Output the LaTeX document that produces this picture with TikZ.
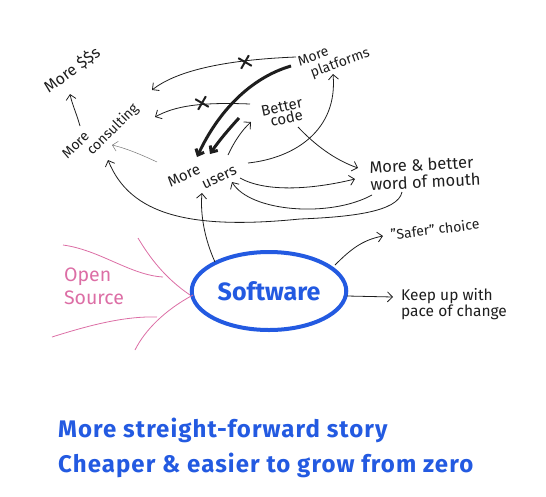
\documentclass[tikz,border=0pt]{standalone}
\usepackage{fontspec}
\setmainfont{Fira Sans}
\usetikzlibrary{arrows.meta,shapes.misc,shapes.geometric}
\definecolor{ink}{RGB}{30,30,30}
\definecolor{faint}{RGB}{120,120,120}
\definecolor{pen}{RGB}{35,90,225}
\definecolor{pinkpen}{RGB}{220,110,165}
\begin{document}
\begin{tikzpicture}[x=1pt,y=-1pt,
  lab/.style={font=\fontsize{14}{15}\selectfont, align=left, inner sep=1pt, text=ink},
  arr/.style={draw=ink, line width=0.8pt, -{Straight Barb[length=5pt,width=10pt]}},
  faintarr/.style={draw=faint, line width=0.5pt, -{Straight Barb[length=5pt,width=10pt]}},
  heavy/.style={draw=ink, line width=3pt, -{Straight Barb[length=5pt,width=9pt]}},
  xmark/.style={draw=ink, cross out, line width=2pt, minimum size=9pt, inner sep=0pt},
  pinkline/.style={draw=pinkpen, line width=0.8pt},
  bluetext/.style={font=\fontsize{24}{26}\selectfont\bfseries\addfontfeatures{LetterSpace=4.5},
                   text=pen, inner sep=0pt, anchor=west}
]
\useasboundingbox (0,0) rectangle (546,496);

% ---------- nodes ----------
\node[lab, rotate=36, font=\fontsize{16}{17}\selectfont] (dollars) at (72,70) {More \$\$s};
\node[lab, rotate=45] (consult) at (101,132) {More\\\hspace*{20pt}consulting};
\node[lab, rotate=20] (platforms) at (334,58) {More\\\hspace*{8pt}platforms};
\node[lab, rotate=12, font=\fontsize{15}{12}\selectfont] (code) at (283,113) {Better\\\hspace*{7pt}code};
\node[lab, rotate=25, font=\fontsize{15}{16}\selectfont] (users) at (202,176) {More\\\hspace*{30pt}users};
\node[lab, rotate=3, font=\fontsize{16.5}{17}\selectfont] (wom) at (425,173) {More \& better\\word of mouth};
\node[lab, rotate=7] (safer) at (435,229) {"Safer" choice};
\node[lab, font=\fontsize{15.5}{16}\selectfont] (keep) at (454,304) {Keep up with\\pace of change};
\node[lab, text=pinkpen, font=\fontsize{19.5}{23}\selectfont] (open) at (94,286) {Open\\Source};
\node[draw=pen, line width=4pt, ellipse, minimum width=150pt, minimum height=78pt,
      text=pen, font=\fontsize{25}{26}\selectfont\bfseries] (soft) at (269,291) {Software};
\node[bluetext] (story) at (58,430) {More streight-forward story};
\node[bluetext] (cheap) at (58,465) {Cheaper \& easier to grow from zero};

% ---------- connector end points ----------
\coordinate (consTop) at (80,126);
\coordinate (dolBot) at (70,94);
\coordinate (platL) at (296,57);
\coordinate (consR1) at (152,90);
\coordinate (codeL) at (250,104);
\coordinate (consR2) at (155,117);
\coordinate (platL2) at (291,66);
\coordinate (usersT1) at (197,157);
\coordinate (codeL2) at (239,118);
\coordinate (usersT2) at (210,154);
\coordinate (usersTR) at (228,155);
\coordinate (codeBL) at (251,122);
\coordinate (usersR) at (248,163);
\coordinate (platB) at (333,74);
\coordinate (codeB) at (298,127);
\coordinate (womL1) at (358,168);
\coordinate (usersR2) at (240,178);
\coordinate (womL2) at (355,179);
\coordinate (womB1) at (372,195);
\coordinate (usersB) at (232,182);
\coordinate (womB2) at (402,192);
\coordinate (mid) at (300,219);
\coordinate (consB) at (108,160);
\coordinate (usersL) at (157,162);
\coordinate (consB2) at (112,145);
\coordinate (softT) at (215,262);
\coordinate (usersB2) at (202,193);
\coordinate (softR1) at (335,265);
\coordinate (saferL) at (383,236);
\coordinate (softR2) at (347,296);
\coordinate (keepL) at (393,297);

% ---------- black connectors ----------
\draw[arr] (consTop) .. controls (76,112) and (72,104) .. (dolBot);
\draw[arr] (platL) .. controls (220,60) and (175,72) .. (consR1);
\node[xmark, rotate=15] (x1) at (245,62) {};
\draw[arr] (codeL) .. controls (200,102) and (175,106) .. (consR2);
\node[xmark, rotate=15] (x2) at (202,103) {};
\draw[heavy] (platL2) .. controls (250,78) and (218,112) .. (usersT1);
\draw[heavy] (codeL2) .. controls (228,130) and (218,142) .. (usersT2);
\draw[arr] (usersTR) .. controls (234,142) and (242,130) .. (codeBL);
\draw[arr] (usersR) .. controls (295,158) and (338,130) .. (platB);
\draw[arr] (codeB) .. controls (315,145) and (335,160) .. (womL1);
\draw[arr] (usersR2) .. controls (265,192) and (310,190) .. (womL2);
\draw[arr] (womB1) .. controls (330,218) and (250,212) .. (usersB);
\draw[arr] (womB2) .. controls (398,212) and (350,217) .. (mid)
                   .. controls (190,230) and (130,215) .. (consB);
\draw[faintarr] (usersL) .. controls (140,154) and (125,148) .. (consB2);
\draw[arr] (softT) .. controls (205,240) and (200,215) .. (usersB2);
\draw[arr] (softR1) .. controls (350,250) and (362,240) .. (saferL);
\draw[arr] (softR2) -- (keepL);

% ---------- pink strokes ----------
\draw[pinkline] (63,245) .. controls (100,250) and (130,275) .. (163,277);
\draw[pinkline] (138,238) .. controls (150,258) and (165,278) .. (190,295);
\draw[pinkline] (52,337) .. controls (90,325) and (125,316) .. (157,317);
\draw[pinkline] (135,350) .. controls (145,330) and (165,310) .. (193,295);
\end{tikzpicture}
\end{document}
